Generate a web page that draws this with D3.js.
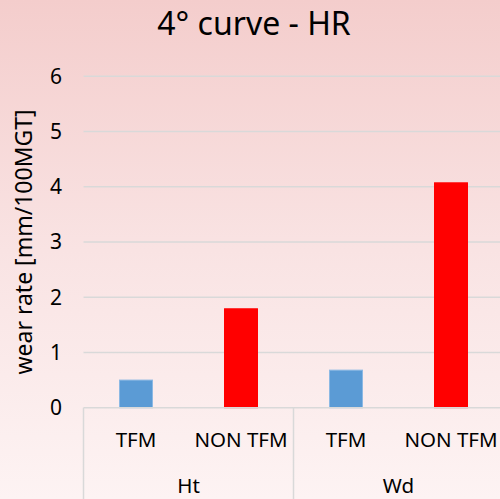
<!DOCTYPE html>
<html>
<head>
<meta charset="utf-8">
<script src="https://cdn.jsdelivr.net/npm/d3@7"></script>
<style>
  html, body { margin: 0; padding: 0; }
  svg { display: block; font-family: "Noto Sans", "Open Sans", sans-serif; }
</style>
</head>
<body>
<svg id="chart" width="500" height="499"></svg>
<script>
// chart data
var groups = ["Ht", "Wd"];
var types = ["TFM", "NON TFM"];
var htValues = [0.5, 1.79];
var wdValues = [0.68, 4.07];
var yTicks = [0, 1, 2, 3, 4, 5, 6];
var typeColors = ["#5b9bd5", "#ff0000"];
var typeStrokes = ["#8cb9e4", "#ff0000"];

var seriesByGroup = [htValues, wdValues];
var rows = [];
groups.forEach(function (g, gi) {
  types.forEach(function (t, ti) {
    rows.push({ group: g, type: t, ti: ti, value: seriesByGroup[gi][ti] });
  });
});

var svg = d3.select("#chart");
var W = 500, H = 499;
var plotLeft = 83.5, plotRight = 503.5, plotTop = 76.2, plotBottom = 407.7;

// background gradient
var defs = svg.append("defs");
var grad = defs.append("linearGradient").attr("id", "bg")
  .attr("x1", 0).attr("y1", 0).attr("x2", 0).attr("y2", 1);
grad.append("stop").attr("offset", "0%").attr("stop-color", "#f4cdcc");
grad.append("stop").attr("offset", "50%").attr("stop-color", "#f9e3e3");
grad.append("stop").attr("offset", "100%").attr("stop-color", "#fdf3f3");
svg.append("rect").attr("width", W).attr("height", H).attr("fill", "url(#bg)");

var y = d3.scaleLinear().domain([0, 6]).range([plotBottom, plotTop]);
var xGroup = d3.scaleBand().domain(groups).range([plotLeft, plotRight]);
var xType = d3.scaleBand().domain(types).range([0, xGroup.bandwidth()]);
var barW = 33;

// gridlines
svg.append("g").selectAll("line").data(yTicks.filter(function (d) { return d > 0; }))
  .enter().append("line")
  .attr("x1", plotLeft).attr("x2", W)
  .attr("y1", function (d) { return y(d); })
  .attr("y2", function (d) { return y(d); })
  .style("stroke", "#d9d9d9").style("stroke-width", "1.5px");

// y tick labels
svg.append("g").selectAll("text").data(yTicks)
  .enter().append("text")
  .attr("x", 62)
  .attr("y", function (d) { return y(d) + 7.5; })
  .attr("text-anchor", "end")
  .style("font-size", "21px").style("fill", "#000")
  .text(function (d) { return d; });

// bars
svg.append("g").selectAll("rect").data(rows)
  .enter().append("rect")
  .attr("x", function (d) {
    return xGroup(d.group) + xType(d.type) + (xType.bandwidth() - barW) / 2;
  })
  .attr("y", function (d) { return y(d.value); })
  .attr("width", barW)
  .attr("height", function (d) { return y(0) - y(d.value); })
  .style("fill", function (d) { return typeColors[d.ti]; })
  .style("stroke", function (d) { return typeStrokes[d.ti]; })
  .style("stroke-width", "1px");

// category axis
svg.append("line")
  .attr("x1", plotLeft).attr("x2", W).attr("y1", y(0)).attr("y2", y(0))
  .style("stroke", "#d9d9d9").style("stroke-width", "1.5px");
svg.append("g").selectAll("line").data(groups.concat(["end"]))
  .enter().append("line")
  .attr("x1", function (d, i) { return plotLeft + i * xGroup.bandwidth(); })
  .attr("x2", function (d, i) { return plotLeft + i * xGroup.bandwidth(); })
  .attr("y1", y(0)).attr("y2", H)
  .style("stroke", "#d9d9d9").style("stroke-width", "1.5px");

svg.append("g").selectAll("text").data(rows)
  .enter().append("text")
  .attr("x", function (d) { return xGroup(d.group) + xType(d.type) + xType.bandwidth() / 2; })
  .attr("y", 447)
  .attr("text-anchor", "middle")
  .style("font-size", "20.5px").style("fill", "#000")
  .text(function (d) { return d.type; });

svg.append("g").selectAll("text").data(groups)
  .enter().append("text")
  .attr("x", function (d) { return xGroup(d) + xGroup.bandwidth() / 2; })
  .attr("y", 493)
  .attr("text-anchor", "middle")
  .style("font-size", "20.5px").style("fill", "#000")
  .text(function (d) { return d; });

// y axis title
svg.append("text")
  .attr("transform", "translate(32," + ((plotTop + plotBottom) / 2) + ") rotate(-90)")
  .attr("text-anchor", "middle")
  .style("font-size", "23px").style("fill", "#000")
  .text("wear rate [mm/100MGT]");

// title
svg.append("text")
  .attr("x", 254).attr("y", 35)
  .attr("text-anchor", "middle")
  .style("font-size", "32px").style("fill", "#000")
  .text("4° curve - HR");
</script>
</body>
</html>
